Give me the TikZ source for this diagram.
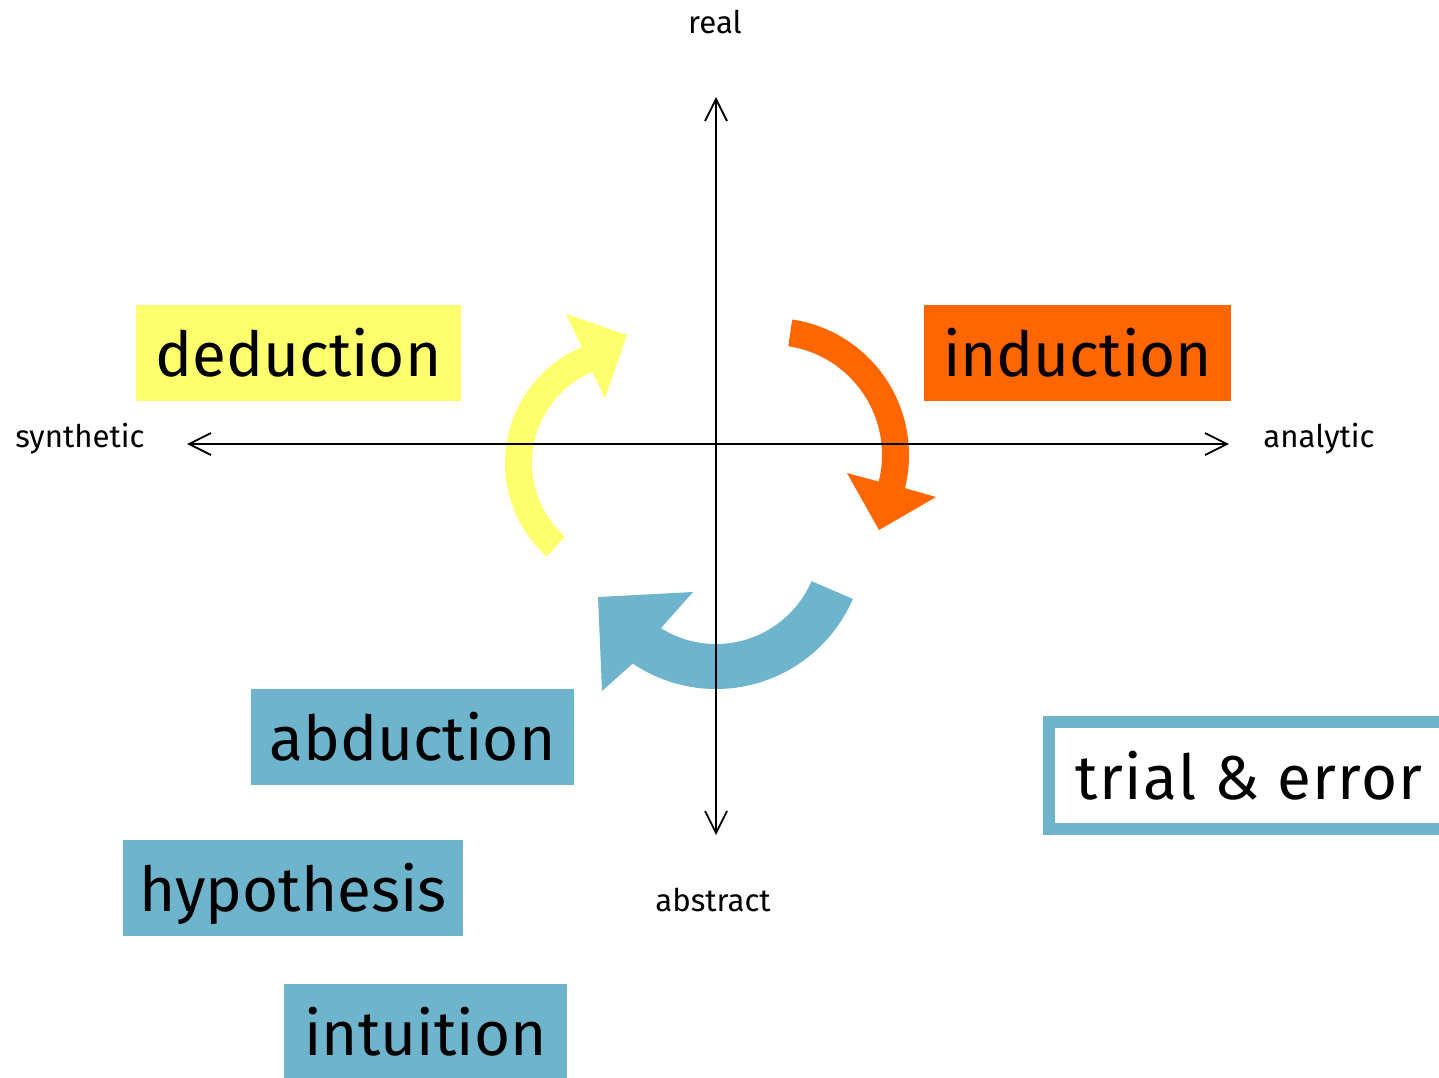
\documentclass[tikz,border=0pt]{standalone}
\usepackage{fontspec}
\setmainfont{Fira Sans}
\usetikzlibrary{arrows.meta,calc}
\definecolor{dedyellow}{HTML}{FFFF6E}
\definecolor{indorange}{HTML}{FF6600}
\definecolor{abdblue}{HTML}{6EB4CC}

\begin{document}
\begin{tikzpicture}[x=0.5pt,y=-0.5pt,
  axis/.style={line width=0.9pt,
    {Straight Barb[length=11pt,width=11pt]}-{Straight Barb[length=11pt,width=11pt]}},
  axislabel/.style={font=\fontsize{15.6}{18}\selectfont, inner sep=0pt, anchor=base},
  term/.style={font=\fontsize{31}{36}\selectfont, inner sep=0pt,
    text height=35.5pt, text depth=12.5pt, minimum height=48pt},
]
\useasboundingbox (0,0) rectangle (1439,1077);
\clip (0,0) rectangle (1439,1077);
\fill[white] (0,0) rectangle (1439,1077);

% circular arrows of the reasoning cycle
\coordinate (yc) at (631,463);
\coordinate (oc) at (772,455);
\coordinate (bc) at (716,540);

\fill[dedyellow] ($(yc)+(132:126)$) arc[start angle=132, end angle=247, radius=126]
  -- (566,314) -- (627,335) -- (605,398)
  -- ($(yc)+(247:99)$) arc[start angle=247, end angle=132, radius=99] -- cycle;

\fill[indorange] ($(oc)+(-81.5:137)$) arc[start angle=-81.5, end angle=14, radius=137]
  -- (936,497) -- (879,530) -- (847,473)
  -- ($(oc)+(14:110)$) arc[start angle=14, end angle=-81.5, radius=110] -- cycle;

\fill[abdblue] ($(bc)+(23.3:149)$) arc[start angle=23.3, end angle=124, radius=149]
  -- (602,691) -- (598,597) -- (693,592)
  -- ($(bc)+(122:104)$) arc[start angle=122, end angle=23.3, radius=104] -- cycle;

% axes
\coordinate (west) at (187,444);
\coordinate (east) at (1229,444);
\coordinate (north) at (716,97);
\coordinate (south) at (716,835);
\draw[axis] (west) -- (east);
\draw[axis] (north) -- (south);

\node[axislabel] (real) at (715,33) {real};
\node[axislabel] (abstract) at (713,911) {abstract};
\node[axislabel] (synthetic) at (80,447) {synthetic};
\node[axislabel] (analytic) at (1319,447) {analytic};

% labelled terms
\node[term, fill=dedyellow, minimum width=162.5pt] (deduction) at (298.5,353) {deduction};
\node[term, fill=indorange, minimum width=153.5pt] (induction) at (1077.5,353) {induction};
\node[term, fill=abdblue, minimum width=161.5pt] (abduction) at (412.5,737) {abduction};
\node[term, fill=abdblue, minimum width=170pt] (hypothesis) at (293,888) {hypothesis};
\node[term, fill=abdblue, minimum width=141.5pt] (intuition) at (425.5,1032) {intuition};

\node[draw=abdblue, line width=6pt, fill=white, inner sep=0pt,
  minimum width=199.5pt, minimum height=53.5pt] (trialbox) at (1248.5,775.5) {};
\node[font=\fontsize{31}{36}\selectfont\addfontfeatures{LetterSpace=2.3}, inner sep=0pt, anchor=base west]
  (trial) at (1075,799) {trial \& error};
\end{tikzpicture}
\end{document}
